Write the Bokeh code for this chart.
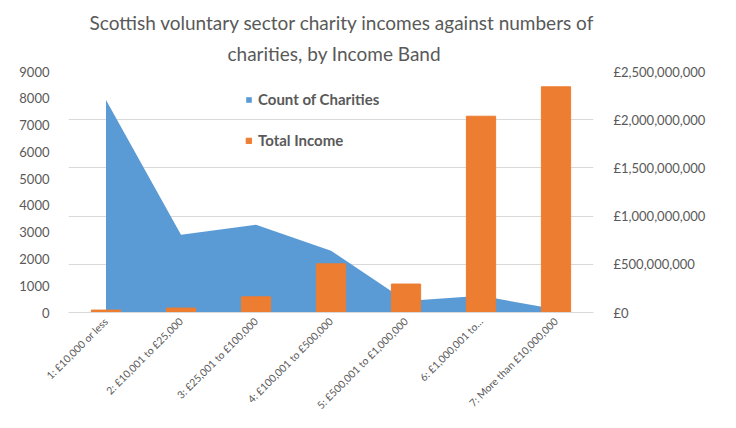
import math
from bokeh.plotting import figure
from bokeh.models import (Range1d, LinearAxis, FixedTicker, FactorRange, Legend, LegendItem, Title)
from bokeh.embed import file_html
from bokeh.resources import INLINE

# ---- data ----
categories = ["1: £10,000 or less", "2: £10,001 to £25,000", "3: £25,001 to £100,000",
              "4: £100,001 to £500,000", "5: £500,001 to £1,000,000", "6: £1,000,001 to…",
              "7: More than £10,000,000"]
count_of_charities = [7940, 2900, 3280, 2310, 430, 625, 120]
total_income = [25_000_000, 46_000_000, 163_000_000, 505_000_000, 295_000_000,
                2_036_000_000, 2_341_000_000]
left_ticks = [0, 1000, 2000, 3000, 4000, 5000, 6000, 7000, 8000, 9000]
right_ticks = [0, 500_000_000, 1_000_000_000, 1_500_000_000, 2_000_000_000, 2_500_000_000]
right_tick_labels = ["£0", "£500,000,000", "£1,000,000,000", "£1,500,000,000",
                     "£2,000,000,000", "£2,500,000,000"]
title_line1 = "Scottish voluntary sector charity incomes against numbers of"
title_line2 = "charities, by Income Band"

COUNT_MAX = 9000
INCOME_MAX = 2_500_000_000

TXT = "#595959"
GRID = "#D9D9D9"
BLUE = "#5B9BD5"
ORANGE = "#ED7D31"
FONT = "Lato"

p = figure(width=728, height=420, x_range=FactorRange(*categories),
           y_range=Range1d(0, COUNT_MAX), output_backend="svg", toolbar_location=None,
           min_border_left=68, min_border_right=135, min_border_top=71, min_border_bottom=108)
p.extra_y_ranges = {"income": Range1d(0, INCOME_MAX)}
p.outline_line_color = None

p.title.text = title_line1
p.title.align = "left"
p.title.offset = 21
p.title.text_font = FONT
p.title.text_font_size = "19px"
p.title.text_font_style = "normal"
p.title.text_color = TXT
p.title.standoff = 0
t2 = Title(text=title_line2, align="left", offset=159, text_font=FONT, text_font_size="19px",
           text_font_style="normal", text_color=TXT, standoff=13)
p.add_layout(t2, "above")

area = p.varea(x=categories, y1=0, y2=count_of_charities, fill_color=BLUE)
bars = p.vbar(x=categories, top=total_income, width=0.39, fill_color=ORANGE,
              line_color=ORANGE, y_range_name="income")

p.xgrid.grid_line_color = None
p.ygrid.ticker = FixedTicker(ticks=[t / INCOME_MAX * COUNT_MAX for t in right_ticks])
p.ygrid.grid_line_color = GRID
p.ygrid.grid_line_width = 1

ya = p.yaxis[0]
ya.ticker = FixedTicker(ticks=left_ticks)
ya.axis_line_color = None
ya.major_tick_line_color = None
ya.minor_tick_line_color = None
ya.major_label_standoff = 13
ya.major_label_text_font = FONT
ya.major_label_text_font_size = "13px"
ya.major_label_text_color = TXT

ra = LinearAxis(y_range_name="income", ticker=FixedTicker(ticks=right_ticks))
ra.major_label_overrides = {t: s for t, s in zip(right_ticks, right_tick_labels)}
ra.axis_line_color = None
ra.major_tick_line_color = None
ra.minor_tick_line_color = None
ra.major_label_standoff = 14
ra.major_label_text_font = FONT
ra.major_label_text_font_size = "13px"
ra.major_label_text_color = TXT
p.add_layout(ra, "right")

xa = p.xaxis[0]
xa.axis_line_color = GRID
xa.major_tick_line_color = None
xa.minor_tick_line_color = None
xa.major_label_orientation = math.pi / 4
xa.major_label_standoff = 1
xa.major_label_text_font = FONT
xa.major_label_text_font_size = "10.4px"
xa.major_label_text_color = TXT

legend = Legend(items=[LegendItem(label="Count of Charities", renderers=[area]),
                       LegendItem(label="Total Income", renderers=[bars])],
                location=(177, 162), orientation="vertical")
legend.border_line_color = None
legend.background_fill_alpha = 0
legend.padding = 0
legend.margin = 0
legend.spacing = 21
legend.glyph_width = 7
legend.glyph_height = 7
legend.label_height = 20
legend.label_standoff = 6
legend.label_text_font = FONT
legend.label_text_font_style = "bold"
legend.label_text_font_size = "15px"
legend.label_text_color = TXT
p.add_layout(legend, "center")

open("out.html", "w").write(file_html(p, INLINE))
